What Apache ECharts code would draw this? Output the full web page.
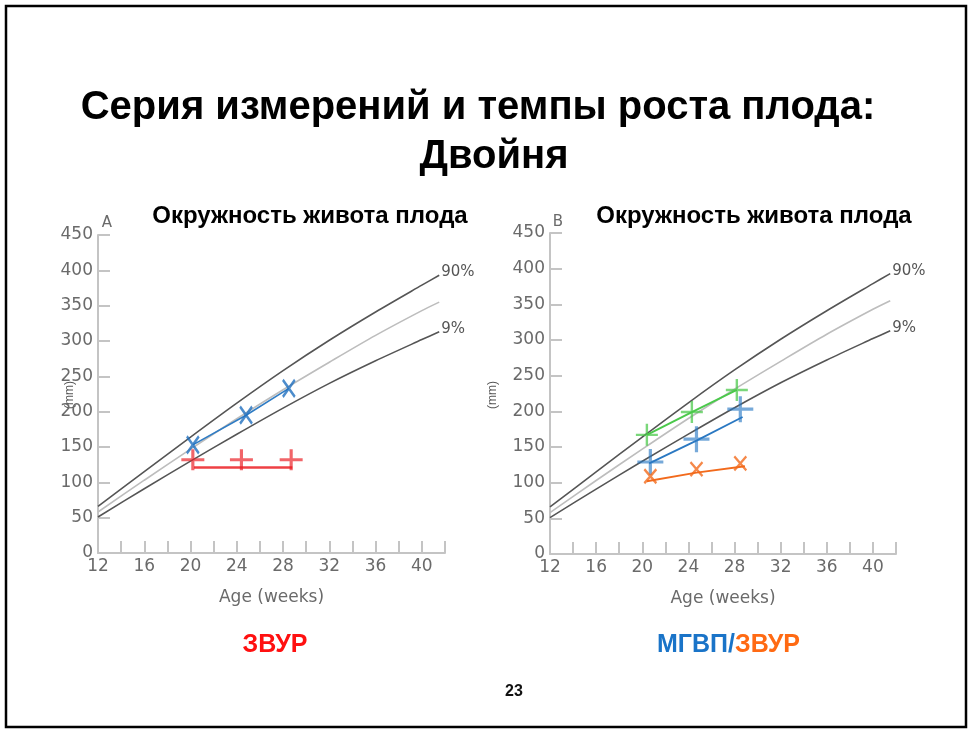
<!DOCTYPE html>
<html>
<head>
<meta charset="utf-8">
<script src="https://cdn.jsdelivr.net/npm/echarts@6/dist/echarts.min.js"></script>
<style>
html,body{margin:0;padding:0;background:#fff;}
#chart{width:969px;height:731px;}
</style>
</head>
<body>
<div id="chart"></div>
<script>
// Percentile reference curves (abdominal circumference, mm) by gestational age (weeks)
const curveWeeks = [12, 16, 20, 24, 28, 32, 36, 40, 41.5];
const p90 = [66, 115, 164, 212, 258, 301, 341, 379, 393];
const p50 = [58, 103, 147, 190, 231, 270, 308, 343, 355];
const p9  = [51, 91, 130, 168, 205, 240, 272, 302, 313];

// Panel A
const aRedWeeks = [20.2, 24.4, 28.7];
const aRedVals = [132, 132, 132];
const aRedLineWeeks = [20.3, 28.8];
const aRedLineVals = [121, 121];
const aBlueWeeks = [20.2, 24.8, 28.5];
const aBlueVals = [153, 195, 233];

// Panel B
const bGreenWeeks = [20.4, 24.3, 28.2];
const bGreenVals = [167, 199, 230];
const bBlueWeeks = [20.7, 24.7, 28.5];
const bBlueVals = [129, 161, 203];
const bBlueLineWeeks = [20.6, 24.7, 28.7];
const bBlueLineVals = [127, 159, 192];
const bOrangeWeeks = [20.7, 24.7, 28.5];
const bOrangeVals = [109, 119, 127];
const bOrangeLineWeeks = [20.4, 24.7, 28.9];
const bOrangeLineVals = [102, 114, 123];

const xTicks = [12, 16, 20, 24, 28, 32, 36, 40];

const zip = (a, b) => a.map((v, i) => [v, b[i]]);

const SANS = '"DejaVu Sans", sans-serif';
const AX = '#c4c4c4';
const LAB = '#6a6a6a';

const PLUS = 'path://M10,0L10,20M0,10L20,10';
const CROSS = 'path://M0,0L20,20M20,0L0,20';

function xAxisDef(gi) {
  return {
    gridIndex: gi, type: 'value', min: 12, max: 42, interval: 2,
    name: 'Age (weeks)', nameLocation: 'middle', nameGap: 36,
    nameTextStyle: {fontFamily: SANS, fontSize: 17, color: LAB},
    axisLine: {lineStyle: {color: AX, width: 2}},
    axisTick: {inside: true, length: 12, lineStyle: {color: AX, width: 2}},
    axisLabel: {
      fontFamily: SANS, fontSize: 17, color: LAB, margin: 5,
      formatter: v => xTicks.indexOf(v) >= 0 ? String(v) : ''
    },
    splitLine: {show: false}
  };
}
function yAxisDef(gi) {
  return {
    gridIndex: gi, type: 'value', min: 0, max: 450, interval: 50,
    axisLine: {show: true, lineStyle: {color: AX, width: 2}},
    axisTick: {show: true, inside: true, length: 12, lineStyle: {color: AX, width: 2}},
    axisLabel: {fontFamily: SANS, fontSize: 17, color: LAB, margin: 5},
    splitLine: {show: false}
  };
}
function curveSeries(gi, vals, color, label) {
  const s = {
    type: 'line', xAxisIndex: gi, yAxisIndex: gi, data: zip(curveWeeks, vals),
    smooth: 0.3, showSymbol: false, silent: true,
    lineStyle: {color: color, width: 1.6}, z: 2
  };
  if (label) {
    s.endLabel = {show: true, formatter: label, fontFamily: SANS, fontSize: 15,
      color: '#555', distance: 2, offset: [0, -3]};
  }
  return s;
}
function lineSeries(gi, w, v, color, width) {
  return {type: 'line', xAxisIndex: gi, yAxisIndex: gi, data: zip(w, v),
    showSymbol: false, silent: true, lineStyle: {color: color, width: width || 1.8}, z: 3};
}
function markSeries(gi, w, v, sym, size, color, bw) {
  return {type: 'scatter', xAxisIndex: gi, yAxisIndex: gi, data: zip(w, v),
    symbol: sym, symbolSize: size, silent: true,
    itemStyle: {color: 'transparent', borderColor: color, borderWidth: bw || 2.5}, z: 4};
}
function mmLabel(x) {
  return {type: 'text', x: x, y: 395, rotation: Math.PI / 2,
    style: {text: '(mm)', font: '12px "Liberation Sans", Arial, sans-serif', fill: '#555',
      textAlign: 'center', textVerticalAlign: 'middle'}, silent: true};
}

const chart = echarts.init(document.getElementById('chart'), null, {renderer: 'canvas'});

chart.setOption({
  animation: false,
  backgroundColor: '#ffffff',
  grid: [
    {left: 98, top: 235, width: 347, height: 318},
    {left: 550, top: 233, width: 346, height: 321}
  ],
  xAxis: [xAxisDef(0), xAxisDef(1)],
  yAxis: [yAxisDef(0), yAxisDef(1)],
  series: [
    curveSeries(0, p90, '#555555', '90%'),
    curveSeries(0, p50, '#bdbdbd'),
    curveSeries(0, p9, '#555555', '9%'),
    lineSeries(0, aRedLineWeeks, aRedLineVals, 'rgba(235,30,35,0.85)', 2.5),
    markSeries(0, aRedWeeks, aRedVals, PLUS, [23, 21], 'rgba(235,30,35,0.85)', 3),
    lineSeries(0, aBlueWeeks, aBlueVals, '#2f7cc4', 1.6),
    markSeries(0, aBlueWeeks, aBlueVals, CROSS, [12, 17], '#1f6fbf', 2.6),

    curveSeries(1, p90, '#555555', '90%'),
    curveSeries(1, p50, '#bdbdbd'),
    curveSeries(1, p9, '#555555', '9%'),
    lineSeries(1, bGreenWeeks, bGreenVals, '#4bc94b', 2),
    markSeries(1, bGreenWeeks, bGreenVals, PLUS, [22, 22], 'rgba(70,200,70,0.9)', 2.4),
    lineSeries(1, bBlueLineWeeks, bBlueLineVals, '#2a78c2', 1.8),
    markSeries(1, bBlueWeeks, bBlueVals, PLUS, [26, 26], 'rgba(40,120,195,0.8)', 3.2),
    lineSeries(1, bOrangeLineWeeks, bOrangeLineVals, '#f26a1c', 1.8),
    markSeries(1, bOrangeWeeks, bOrangeVals, CROSS, [12, 14], '#f26a1c', 2.4)
  ],
  graphic: [
    {type: 'rect', shape: {x: 6, y: 6, width: 960, height: 721},
      style: {fill: 'none', stroke: '#000', lineWidth: 2.5}, silent: true, z: 100},
    {type: 'text', x: 478, y: 108, style: {text: 'Серия измерений и темпы роста плода:',
      font: 'bold 40px "Liberation Sans", Arial, sans-serif', fill: '#000',
      textAlign: 'center', textVerticalAlign: 'middle'}},
    {type: 'text', x: 494, y: 157, style: {text: 'Двойня',
      font: 'bold 40px "Liberation Sans", Arial, sans-serif', fill: '#000',
      textAlign: 'center', textVerticalAlign: 'middle'}},
    {type: 'text', x: 310, y: 216, style: {text: 'Окружность живота плода',
      font: 'bold 24px "Liberation Sans", Arial, sans-serif', fill: '#000',
      textAlign: 'center', textVerticalAlign: 'middle'}},
    {type: 'text', x: 754, y: 216, style: {text: 'Окружность живота плода',
      font: 'bold 24px "Liberation Sans", Arial, sans-serif', fill: '#000',
      textAlign: 'center', textVerticalAlign: 'middle'}},
    {type: 'text', x: 107, y: 223, style: {text: 'A', font: '15px "DejaVu Sans", sans-serif',
      fill: LAB, textAlign: 'center', textVerticalAlign: 'middle'}},
    {type: 'text', x: 558, y: 222, style: {text: 'B', font: '15px "DejaVu Sans", sans-serif',
      fill: LAB, textAlign: 'center', textVerticalAlign: 'middle'}},
    mmLabel(70),
    mmLabel(493),
    {type: 'text', x: 275, y: 645, style: {text: 'ЗВУР',
      font: 'bold 25px "Liberation Sans", Arial, sans-serif', fill: '#ff1010',
      textAlign: 'center', textVerticalAlign: 'middle'}},
    {type: 'text', x: 657, y: 645, style: {
      rich: {b: {fill: '#1a74c8', font: 'bold 25px "Liberation Sans", Arial, sans-serif'},
             o: {fill: '#ff6a13', font: 'bold 25px "Liberation Sans", Arial, sans-serif'}},
      text: '{b|МГВП/}{o|ЗВУР}', textAlign: 'left', textVerticalAlign: 'middle'}},
    {type: 'text', x: 514, y: 692, style: {text: '23',
      font: 'bold 16px "Liberation Sans", Arial, sans-serif', fill: '#111',
      textAlign: 'center', textVerticalAlign: 'middle'}}
  ]
});
</script>
</body>
</html>
